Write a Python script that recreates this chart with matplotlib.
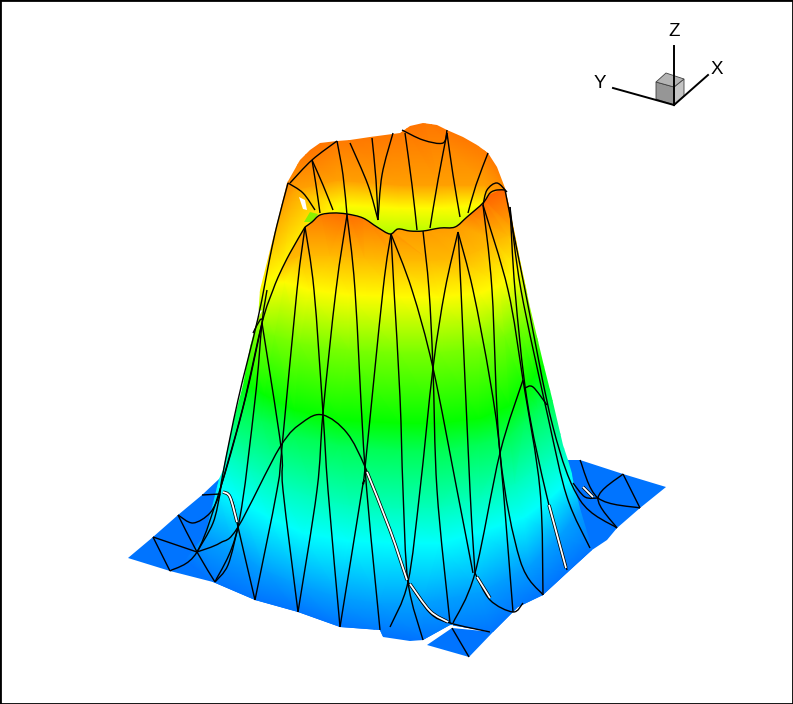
#!/usr/bin/env python3
"""Tecplot style volcano surface, redrawn from the picture. All coordinates are image pixels."""
import numpy as np, matplotlib
matplotlib.use("Agg"); import matplotlib.pyplot as plt
from matplotlib.colors import LinearSegmentedColormap
from matplotlib.patches import PathPatch, Polygon
from matplotlib.path import Path
from matplotlib.tri import Triangulation
plt.rcParams["font.family"]=["Liberation Sans","DejaVu Sans"]

rainbow=["#0000ff","#00ffff","#00ff00","#ffff00","#ff0000"]
floor_level=0.115

# back wall, rows of (x,y) at one contour level, seen through the crater
back_levels=[0.66,0.75,0.84,0.89]
back_rows=[[(250,310),(300,310),(340,240),(400,240),(440,240),(475,240),(540,307)],
[(255,290),(283,270),(340,205),(400,208),(440,208),(480,205),(530,265)],
[(268,223),(293,190),(337,180),(400,185),(440,185),(485,185),(520,220)],
[(283,175),(300,150),(337,130),(403,122),(423,115),(477,135),(510,175)]]

# front of the body, bottom to top
front_levels=[0.115,0.16,0.25,0.32,0.42,0.50,0.62,0.75,0.82]
front_rows=[[(185,560),(213,582),(255,600),(298,612),(340,627),(380,635),(423,640),(493,632),(543,595),(567,572),(592,550)],
[(205,535),(235,550),(265,570),(300,585),(340,597),(380,603),(423,603),(480,592),(530,565),(560,535),(580,510)],
[(216,484),(240,500),(270,518),(303,533),(350,541),(400,543),(440,543),(480,532),(525,517),(550,498),(572,478)],
[(222,450),(250,468),(280,485),(315,497),(350,505),(400,508),(440,507),(480,497),(515,483),(540,465),(570,445)],
[(231,408),(262,420),(295,435),(340,445),(400,450),(440,450),(480,443),(510,435),(525,420),(538,408),(558,398)],
[(238,378),(265,395),(295,410),(340,420),(400,423),(440,423),(480,418),(510,405),(525,390),(535,375),(549,362)],
[(246,330),(275,335),(300,343),(350,350),(400,352),(440,352),(480,347),(505,335),(520,325),(528,320),(540,320)],
[(252,285),(285,282),(310,290),(350,295),(400,297),(440,297),(480,293),(500,285),(512,275),(518,268),(528,265)],
[(275,265),(300,255),(330,255),(365,258),(395,260),(430,260),(460,258),(478,250),(495,240),(508,235),(520,235)]]
rim_row=[(298,222),(320,208),(347,208),(363,212),(377,222),(390,228),(423,226),(455,222),(467,212),(483,198),(512,185)]
rim_levels=[0.85,0.89,0.90,0.89,0.87,0.85,0.85,0.85,0.88,0.90,0.90]

# outlines that cut the colour meshes
silhouette=[(219,479),(223,470),(233,423),(243,385),(250,347),(255,328),(258,318),(260,290),(270,250),(277,223),(287,183),
(300,160),(310,150),(320,143),(337,141),(350,140),(370,137),(400,133),(410,126),(423,123),(437,125),(447,130),(463,137),
(477,145),(488,153),(497,167),(505,188),(510,210),(520,260),(530,307),(543,362),(552,398),(563,445),(568,460)]
rim_curve=[(305,227),(312,222),(320,215),(333,213),(347,214),(363,218),(377,227),(390,234),(398,229),(410,231),(423,231),
(440,228),(455,227),(467,217),(483,203),(490,193),(497,190),(505,190)]
ridge=[(219,479),(223,470),(233,423),(243,385),(250,347),(255,328),(258,318),(270,297),(280,273),(290,253)]
right_side=[(510,210),(520,260),(530,307),(543,362),(552,398),(563,445),(568,460)]
base_curve=[(573,477),(580,490),(592,550),(567,573),(543,595),(518,607),(493,632),(450,625),(423,640),(410,641),(383,637),
(380,630),(340,627),(298,612),(255,600),(213,582),(185,560),(205,535)]
floor_outline=[(128,558),(153,537),(178,515),(202,495),(219,479),(230,470),(560,455),(568,460),(580,460),(623,474),
(666,487),(640,508),(617,528),(607,540),(592,550),(567,573),(543,595),(518,607),(493,632),(450,625),(423,640),(410,641),
(383,637),(380,630),(340,627),(298,612),(255,600),(213,582),(170,571)]
corner_piece=[(427,645),(452,628),(493,632),(469,657)]

# white slivers where elements do not meet, edged in black
gaps=[[(367,472),(390,530),(407,580)],[(410,584),(430,611),(448,622)],[(477,577),(490,598)],[(549,505),(566,568)],
[(223,492),(230,497),(237,522)],[(583,487),(593,497)]]
corner_gap=[(423,642),(452,626)]
crater_hole=[(299,197),(305,200),(307,210),(303,209)]
crater_spot=[(304,222),(310,212),(318,214),(312,222)]

# element edges
edges=[
# crater back
[(337,141),(343,175),(347,215)],[(350,143),(368,185),(378,220)],[(372,138),(376,180),(378,220)],
[(393,133),(382,175),(378,220)],[(405,133),(412,185),(417,230)],[(447,133),(438,180),(430,228)],
[(447,133),(453,175),(460,217)],[(488,153),(476,185),(468,213)],[(312,160),(323,185),(333,210)],
[(312,160),(316,185),(320,213)],[(290,183),(312,160),(337,141)],[(288,183),(303,193),(315,210)],
[(402,130),(423,140),(443,143),(447,130)],[(483,205),(487,190),(497,183),(507,192)],
# rim and ridge
rim_curve,[(305,227),(290,253),(280,273),(273,290),(262,323),(243,407),(220,490)],
[(288,183),(277,225),(270,257),(258,318),(238,400),(223,473),(220,494)],
[(253,333),(260,320),(263,320)],
# down from the rim
[(305,227),(297,290),(282,447),(277,490),(255,600)],[(305,227),(314,290),(323,413),(328,490),(340,627)],
[(347,215),(336,290),(323,413),(317,490),(298,612)],[(347,215),(355,290),(365,468),(380,630)],
[(391,234),(383,290),(365,468),(362,490),(340,627)],[(391,234),(394,290),(400,397),(403,490),(408,582),(423,640)],
[(391,234),(412,290),(433,368),(457,490),(473,573)],[(423,231),(429,290),(433,368),(437,490),(450,623)],
[(458,232),(445,290),(433,368),(420,490),(408,582),(390,627)],[(458,232),(461,290),(470,490),(475,573)],
[(458,232),(473,290),(490,380),(500,453),(513,612)],[(483,205),(492,290),(500,453),(520,560),(543,595)],
[(483,205),(508,290),(523,380),(540,490),(543,595)],[(510,207),(515,290),(527,400),(547,497),(567,570)],
[(510,207),(521,290),(548,417),(567,497),(590,548)],[(505,190),(525,290),(553,427),(580,500),(617,528)],
# middle fans
[(267,290),(262,323),(255,400),(238,527),(215,582)],[(262,323),(245,400),(222,483),(197,552),(170,571)],
[(262,323),(281,447),(283,490),(298,612)],[(523,380),(500,453),(475,573),(453,623)],
[(525,388),(533,387),(547,405)],[(255,600),(238,527),(233,503),(227,494)],
# big arcs
[(197,552),(220,543),(238,527),(280,447),(303,422),(323,415),(347,433),(366,469),(390,530),(408,582)],
[(178,515),(193,523),(210,513),(220,494)],[(202,495),(220,494)],[(197,552),(213,523),(220,494)],
[(153,537),(197,552)],[(153,537),(170,571)],[(178,515),(197,552),(215,582)],[(215,582),(228,565),(238,527)],
# front lower right
[(408,582),(430,613),(450,623),(490,632)],[(475,573),(490,600),(513,612),(523,603)],
[(452,628),(469,657)],[(580,460),(598,498),(640,508)],[(623,474),(598,498),(617,528)],[(623,474),(640,508)],
[(573,483),(585,497),(598,498)],
]

# orientation marker
triad_lines=[[(674,46),(674,105)],[(613,88),(674,105)],[(708,75),(674,105)]]
cube_faces=[[(656,82),(674,87),(674,105),(656,99)],[(674,87),(684,79),(684,96),(674,105)],[(656,82),(666,73),(684,79),(674,87)]]
cube_colors=["#969696","#c4c4c4","#b4b4b4"]
triad_labels=[("Z",674,31),("Y",600,84),("X",717,69)]

def mesh(rows,values):
    # triangles between consecutive rows of equal length
    r,c=len(rows),len(rows[0])
    pts=np.array(rows,dtype=float).reshape(-1,2)
    tris=[]
    for i in range(r-1):
        for j in range(c-1):
            a=i*c+j; tris+=[[a,a+1,a+c],[a+1,a+c+1,a+c]]
    return Triangulation(pts[:,0],pts[:,1],tris),np.array(values,dtype=float)

def smooth(points):
    # bezier through every point, so edges bend the way they do on screen
    p=np.array(points,dtype=float)
    verts=[p[0]]; codes=[Path.MOVETO]
    for i in range(len(p)-1):
        a=p[max(i-1,0)]; b=p[i]; c=p[i+1]; d=p[min(i+2,len(p)-1)]
        verts+=[b+(c-a)/6,c-(d-b)/6,c]; codes+=[Path.CURVE4]*3
    return Path(verts,codes)

cmap=LinearSegmentedColormap.from_list("tec_rainbow",rainbow)
fig=plt.figure(figsize=(7.93,7.04),dpi=100)
ax=fig.add_axes([0,0,1,1])
ax.set_xlim(0,793); ax.set_ylim(704,0)
ax.set_xticks([]); ax.set_yticks([])
for s in ax.spines.values(): s.set_linewidth(2); s.set_color("black")

ax.fill(*zip(*floor_outline),color=cmap(floor_level),lw=0)

tb,zb=mesh(back_rows,[v for v in back_levels for _ in back_rows[0]])
back=ax.tripcolor(tb,zb,shading="gouraud",cmap=cmap,vmin=0,vmax=1)
back.set_clip_path(Polygon(silhouette+[(568,470),(219,490)],transform=ax.transData))
ax.fill(*zip(*crater_spot),color="#8cf000",lw=0)
ax.fill(*zip(*crater_hole),color="white",lw=0)

tf,zf=mesh(front_rows+[rim_row],[v for v in front_levels for _ in front_rows[0]]+rim_levels)
front=ax.tripcolor(tf,zf,shading="gouraud",cmap=cmap,vmin=0,vmax=1)
front.set_clip_path(Polygon(ridge+rim_curve+right_side+base_curve,transform=ax.transData))
ax.fill(*zip(*corner_piece),color=cmap(floor_level),lw=0)
ax.plot(*zip(*corner_gap),color="white",lw=1.6)

for e in edges: ax.add_patch(PathPatch(smooth(e),fill=False,edgecolor="black",lw=1.0))
for g in gaps:
    ax.add_patch(PathPatch(smooth(g),fill=False,edgecolor="black",lw=2.4))
    ax.add_patch(PathPatch(smooth(g),fill=False,edgecolor="white",lw=1.3))

for f,c in zip(cube_faces,cube_colors): ax.fill(*zip(*f),facecolor=c,edgecolor="#404040",lw=0.6)
for l in triad_lines: ax.plot(*zip(*l),color="black",lw=1.4)
for t,x,y in triad_labels: ax.text(x,y,t,ha="center",va="center",fontsize=13.5)

ax.set_xlim(0,793); ax.set_ylim(704,0)
fig.savefig("out.png",dpi=100)
print("wrote out.png")
